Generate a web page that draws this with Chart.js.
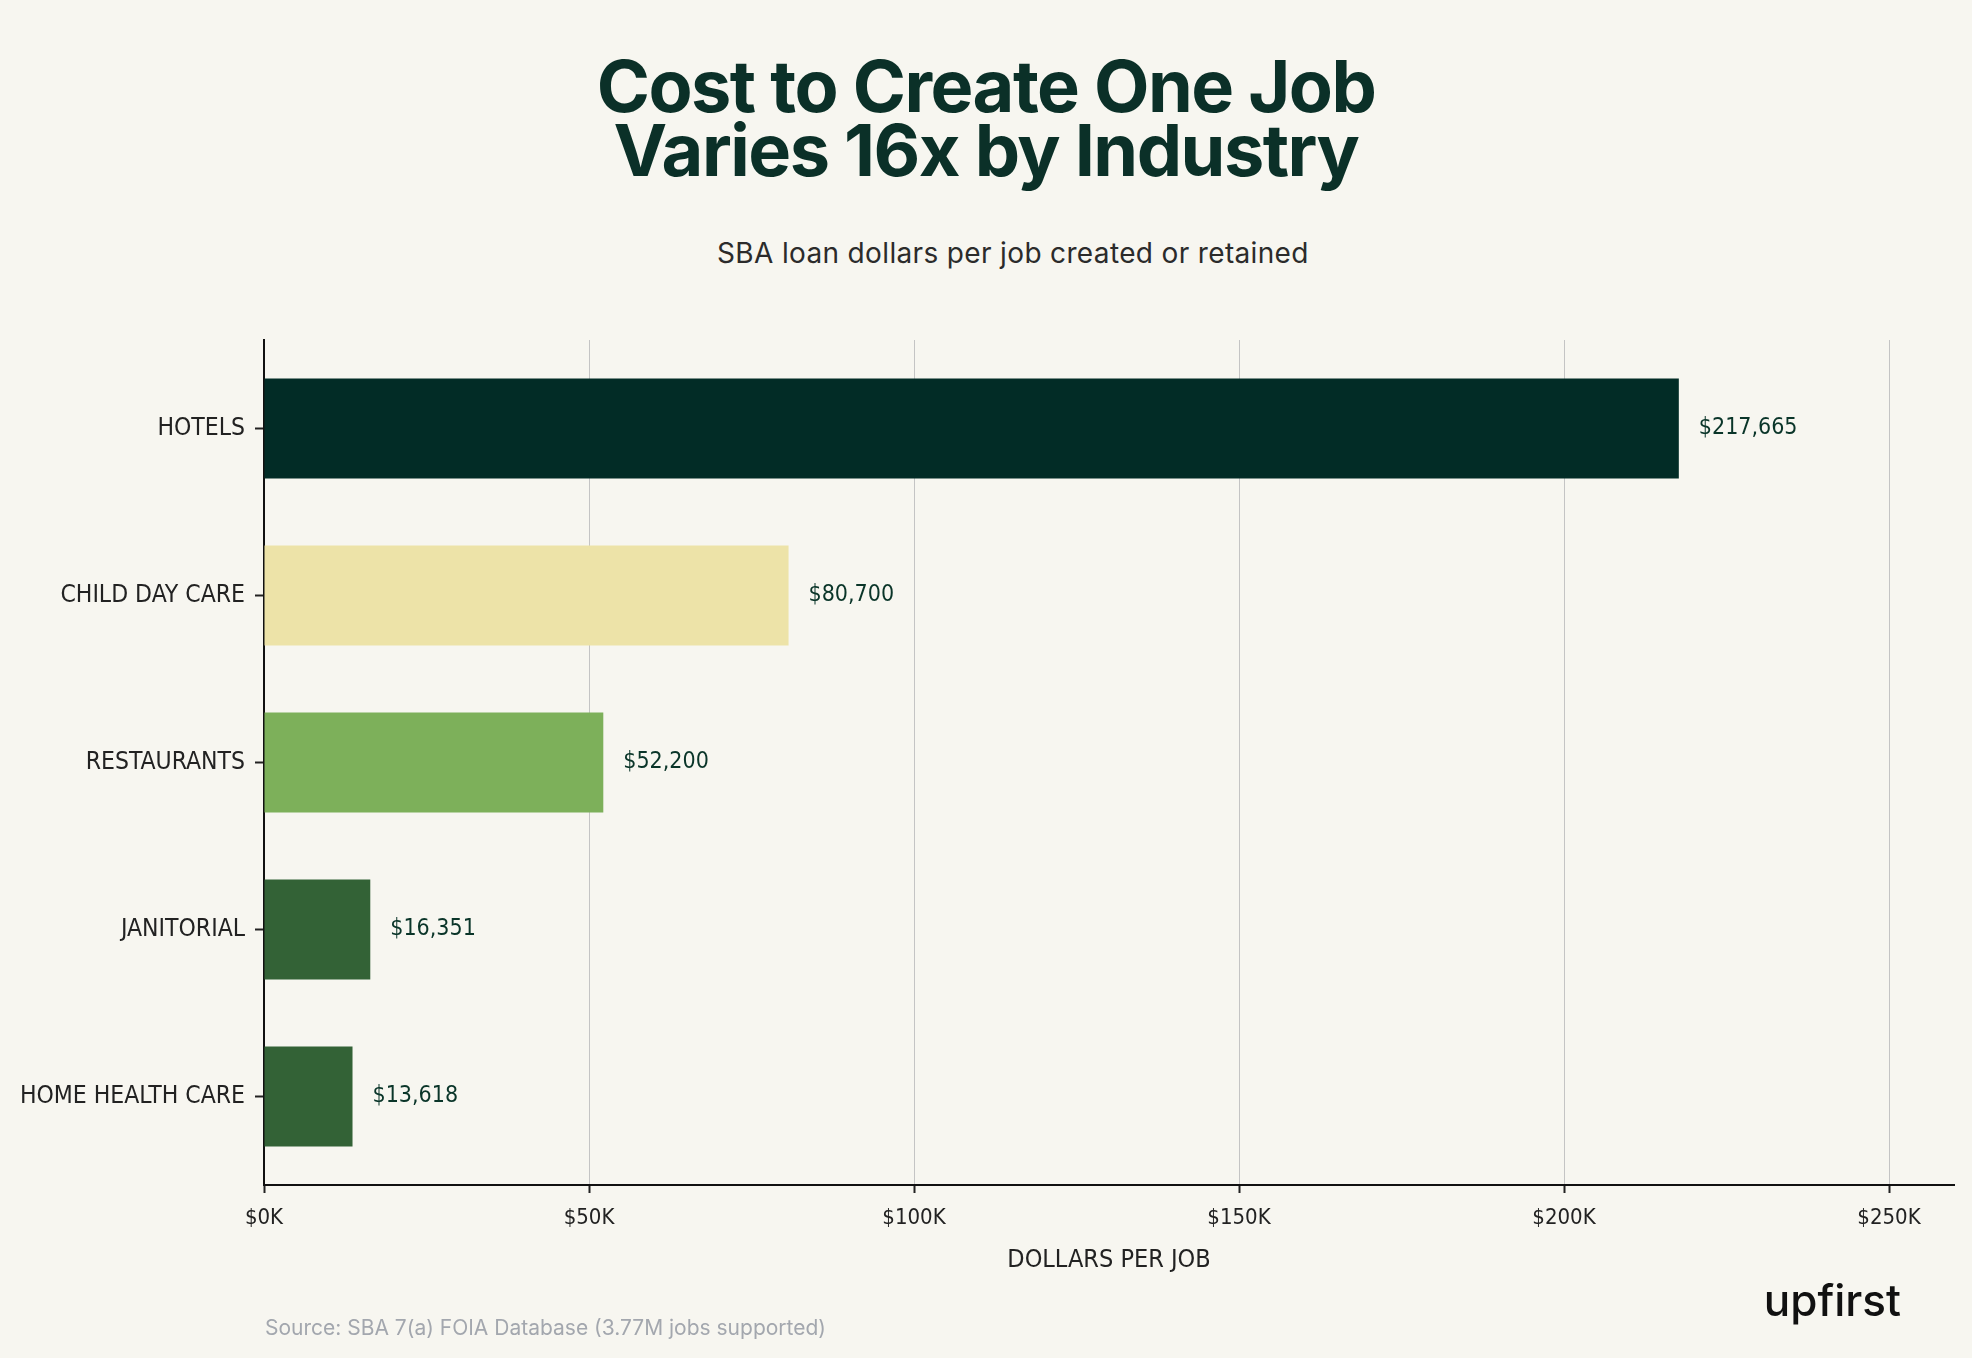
<!DOCTYPE html>
<html>
<head>
<meta charset="utf-8">
<script src="https://cdn.jsdelivr.net/npm/chart.js@4.4.1/dist/chart.umd.min.js"></script>
<style>
  html, body { margin: 0; padding: 0; background: #f7f6f0; }
  body { width: 1972px; height: 1358px; position: relative; overflow: hidden; font-family: Inter, sans-serif; }
  #chart { position: absolute; left: 0; top: 0; }
  .title { position: absolute; left: 0; width: 1972px; top: 54px; text-align: center; font-weight: 700; font-size: 72px; line-height: 64px; color: #0b3028; letter-spacing: -1.5px; }
  .subtitle { position: absolute; left: 717px; top: 239px; font-size: 28px; line-height: 28px; color: #2b2b2b; letter-spacing: 0.35px; }
  .source { position: absolute; left: 265px; top: 1317px; font-size: 21px; line-height: 21px; color: #a3a7ae; }
  .logo { position: absolute; right: 71px; top: 1278px; font-size: 44px; line-height: 44px; font-weight: 500; color: #111; }
</style>
</head>
<body>
<div class="title">Cost to Create One Job<br>Varies 16x by Industry</div>
<div class="subtitle">SBA loan dollars per job created or retained</div>
<canvas id="chart" width="1972" height="1358"></canvas>
<div class="source">Source: SBA 7(a) FOIA Database (3.77M jobs supported)</div>
<div class="logo">upfirst</div>
<script>
const categories = ["HOTELS", "CHILD DAY CARE", "RESTAURANTS", "JANITORIAL", "HOME HEALTH CARE"];
const values = [217665, 80700, 52200, 16351, 13618];
const barColors = ["#022c26", "#ede3a8", "#7db05a", "#336236", "#336236"];
const xTicks = [0, 50000, 100000, 150000, 200000, 250000];

const condensed = '"DejaVu Sans Condensed", "DejaVu Sans", sans-serif';

// dollar label to the right of each bar
const valueLabels = {
  id: "valueLabels",
  afterDatasetsDraw(chart) {
    const ctx = chart.ctx;
    const meta = chart.getDatasetMeta(0);
    ctx.save();
    ctx.font = "23px " + condensed;
    ctx.fillStyle = "#0a3529";
    ctx.textBaseline = "middle";
    ctx.textAlign = "left";
    meta.data.forEach((bar, i) => {
      ctx.fillText("$" + values[i].toLocaleString("en-US"), bar.x + 20, bar.y);
    });
    ctx.restore();
  }
};

const ctx = document.getElementById("chart").getContext("2d");
new Chart(ctx, {
  type: "bar",
  data: {
    datasets: [{
      data: values.map((v, i) => ({ x: v, y: i })),
      backgroundColor: barColors,
      categoryPercentage: 1,
      barPercentage: 0.6
    }]
  },
  options: {
    indexAxis: "y",
    responsive: false,
    animation: false,
    devicePixelRatio: 1,
    layout: { padding: { top: 340, right: 18, left: 0, bottom: 0 } },
    plugins: { legend: { display: false }, tooltip: { enabled: false } },
    scales: {
      y: {
        type: "linear",
        reverse: true,
        offset: false,
        min: -0.53,
        max: 4.53,
        afterBuildTicks: s => { s.ticks = categories.map((c, i) => ({ value: i })); },
        afterFit: s => { s.width = 264; },
        grid: { offset: false, drawOnChartArea: false, drawTicks: true, tickLength: 9, tickColor: "#222", tickWidth: 2 },
        border: { display: true, color: "#111", width: 2 },
        ticks: {
          padding: 10,
          color: "#222",
          font: { family: condensed, size: 24.5 },
          callback: v => categories[v]
        }
      },
      x: {
        type: "linear",
        min: 0,
        max: 260000,
        afterBuildTicks: s => { s.ticks = xTicks.map(v => ({ value: v })); },
        afterFit: s => { s.height = 173; },
        grid: { color: "#c4c4c4", lineWidth: 1, drawTicks: true, tickLength: 8, tickColor: "#222", tickWidth: 2 },
        border: { display: true, color: "#111", width: 2 },
        ticks: {
          padding: 12,
          color: "#222",
          font: { family: condensed, size: 22 },
          callback: v => "$" + (v / 1000) + "K"
        },
        title: {
          display: true,
          text: "DOLLARS PER JOB",
          color: "#222",
          font: { family: condensed, size: 25 },
          padding: { top: 0, bottom: 83 }
        }
      }
    }
  },
  plugins: [valueLabels]
});
</script>
</body>
</html>
